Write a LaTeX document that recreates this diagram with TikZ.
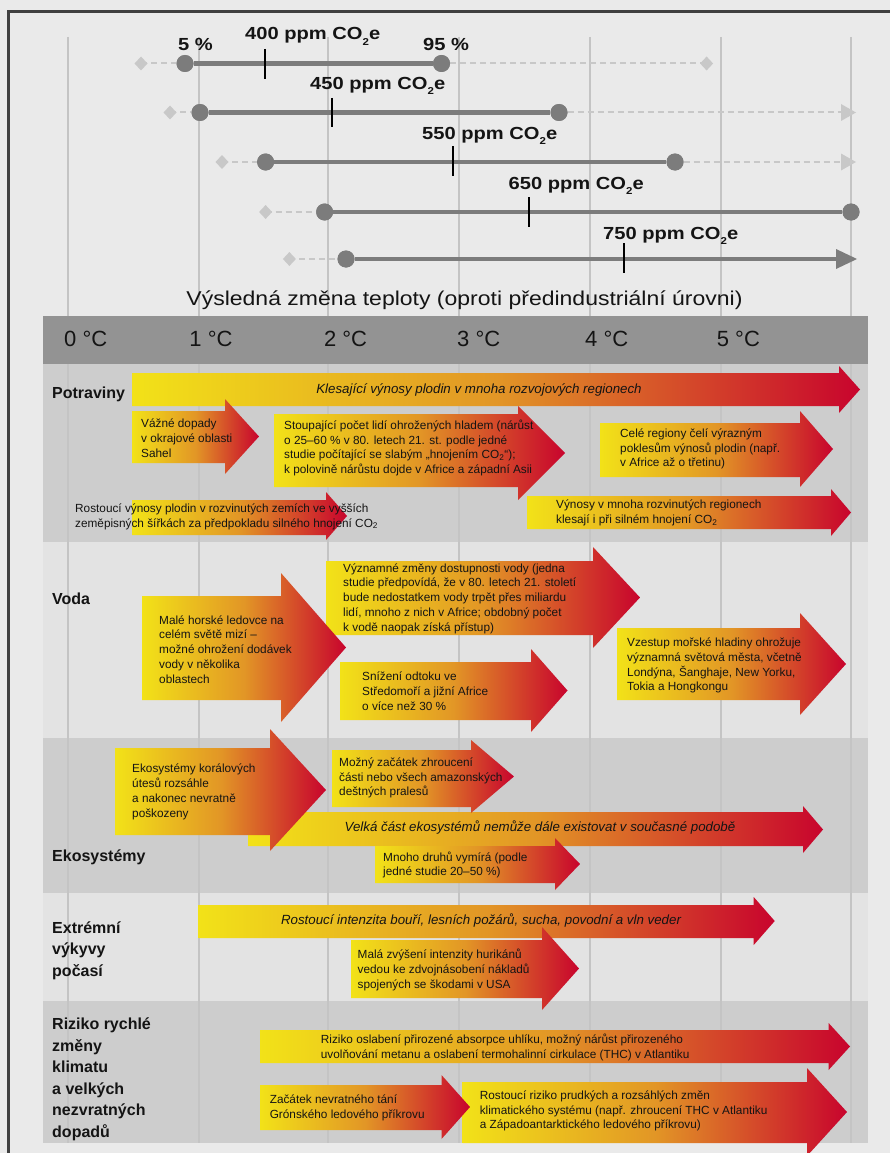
\documentclass[tikz,border=0pt]{standalone}
\usepackage{fontspec}
\usetikzlibrary{calc}
\setmainfont{Liberation Sans}
\newfontfamily\widefont[FakeStretch=1.15]{Liberation Sans}
\definecolor{bgc}{RGB}{234,234,234}
\definecolor{framec}{RGB}{64,64,64}
\definecolor{banddark}{RGB}{205,205,205}
\definecolor{bandlight}{RGB}{227,227,227}
\definecolor{headc}{RGB}{147,147,147}
\definecolor{gridc}{RGB}{196,196,196}
\definecolor{ayel}{RGB}{242,226,24}
\definecolor{aora}{RGB}{226,150,38}
\definecolor{ared}{RGB}{200,4,45}
\definecolor{solidc}{RGB}{124,124,124}
\definecolor{lightc}{RGB}{200,200,200}
\definecolor{txtc}{RGB}{20,20,20}
\newcommand{\grarrow}[7]{%
  \shade[left color=ayel, right color=ared, middle color=aora]
   (#1,#3) -- (#2,#3) -- (#2,#5) -- (#7,{(#5+#6)/2}) -- (#2,#6) -- (#2,#4) -- (#1,#4) -- cycle;}
\newcommand{\diamondat}[1]{\fill[diam] ($(#1)+(-6.5,0)$) -- ++(6.5,-7) -- ++(6.5,7) -- ++(-6.5,7) -- cycle;}
\newcommand{\subtwo}{\raisebox{-0.3em}{\fontsize{10}{10}\selectfont 2}}
\tikzset{
  btxt/.style={anchor=west, inner sep=0pt, align=left, text=txtc, font=\fontsize{11.8}{14.8}\selectfont},
  itxt/.style={anchor=center, inner sep=0pt, text=txtc, font=\fontsize{13.3}{15}\selectfont\itshape},
  cattxt/.style={anchor=west, inner sep=0pt, align=left, text=txtc, font=\fontsize{16}{21.5}\selectfont\bfseries},
  degtxt/.style={anchor=base, inner sep=0pt, text=txtc, font=\fontsize{22}{24}\selectfont},
  scen/.style={anchor=base west, inner sep=0pt, text=txtc, font=\widefont\bfseries\fontsize{17.5}{20}\selectfont},
  gridline/.style={draw=gridc, line width=2pt},
  solidbar/.style={draw=solidc, line width=4.5pt},
  dashbar/.style={draw=lightc, line width=2pt, dash pattern=on 6pt off 4pt},
  dot/.style={circle, fill=solidc, inner sep=0pt, minimum size=17pt},
  diam/.style={fill=lightc},
  tick/.style={draw=black, line width=1.2pt}
}
\begin{document}
\begin{tikzpicture}[x=1pt,y=-1pt]
\useasboundingbox (0,0) rectangle (890,1153);
\fill[bgc] (0,0) rectangle (890,1153);
\draw[framec, line width=3pt] (8.5,1153) -- (8.5,11.5) -- (890,11.5);
% bands
\fill[banddark] (42.6,364) rectangle (868,542);
\fill[bandlight] (42.6,542) rectangle (868,738);
\fill[banddark] (42.6,738) rectangle (868,893);
\fill[bandlight] (42.6,893) rectangle (868,1001);
\fill[banddark] (42.6,1001) rectangle (868,1143);
% grid
\foreach \x in {68,198.5,328,459,590,720.5,851} \draw[gridline] (\x,37) -- (\x,1143);
% header
\fill[headc] (42.6,315.7) rectangle (868,364);
\foreach \t/\x in {0/85.7,1/211,2/345.6,3/478.7,4/606.7,5/738.4}
  \node[degtxt] (deg\t) at (\x,346) {\t\ °C};
\node[anchor=base, inner sep=0pt, text=txtc, font=\widefont\fontsize{20}{22}\selectfont] (title) at (464.5,305) {Výsledná změna teploty (oproti předindustriální úrovni)};
% row 1
\coordinate (r1dl) at (141,63.5); \coordinate (r1dr) at (706.6,63.5);
\node[dot] (r1a) at (185,63.5) {}; \node[dot] (r1b) at (441.5,63.5) {};
\draw[dashbar] (r1dl) -- (r1a); \draw[dashbar] (r1b) -- (r1dr);
\draw[solidbar] (r1a) -- (r1b);
\node[dot] at (r1a) {}; \node[dot] at (r1b) {};
\diamondat{r1dl} \diamondat{r1dr}
\draw[tick] (265,49) -- (265,79);
\node[scen] (l400) at (245,40) {400 ppm CO\subtwo e};
\node[scen] (p5) at (178,50.7) {5 \%};
\node[scen] (p95) at (423,50.7) {95 \%};
% row 2
\coordinate (r2dl) at (170,112.5); \coordinate (r2e) at (841,112.5);
\node[dot] (r2a) at (200,112.5) {}; \node[dot] (r2b) at (559,112.5) {};
\draw[dashbar] (r2dl) -- (r2a); \draw[dashbar] (r2b) -- (r2e);
\fill[lightc] (r2e) ++(0,-8.5) -- ++(15,8.5) -- ++(-15,8.5) -- cycle;
\draw[solidbar] (r2a) -- (r2b);
\node[dot] at (r2a) {}; \node[dot] at (r2b) {};
\diamondat{r2dl}
\draw[tick] (332,98) -- (332,127);
\node[scen] (l450) at (310,89.3) {450 ppm CO\subtwo e};
% row 3
\coordinate (r3dl) at (222,162); \coordinate (r3e) at (841,162);
\node[dot] (r3a) at (265.6,162) {}; \node[dot] (r3b) at (675,162) {};
\draw[dashbar] (r3dl) -- (r3a); \draw[dashbar] (r3b) -- (r3e);
\fill[lightc] (r3e) ++(0,-8.5) -- ++(15,8.5) -- ++(-15,8.5) -- cycle;
\draw[solidbar] (r3a) -- (r3b);
\node[dot] at (r3a) {}; \node[dot] at (r3b) {};
\diamondat{r3dl}
\draw[tick] (453,146) -- (453,176);
\node[scen] (l550) at (422,139.3) {550 ppm CO\subtwo e};
% row 4
\coordinate (r4dl) at (265.6,212);
\node[dot] (r4a) at (324.6,212) {}; \node[dot] (r4b) at (851,212) {};
\draw[dashbar] (r4dl) -- (r4a);
\draw[solidbar] (r4a) -- (r4b);
\node[dot] at (r4a) {}; \node[dot] at (r4b) {};
\diamondat{r4dl}
\draw[tick] (529,197) -- (529,227);
\node[scen] (l650) at (508.5,189.3) {650 ppm CO\subtwo e};
% row 5
\coordinate (r5dl) at (289.4,259); \coordinate (r5e) at (836,259);
\node[dot] (r5a) at (346,259) {};
\draw[dashbar] (r5dl) -- (r5a);
\draw[solidbar] (r5a) -- (r5e);
\fill[solidc] (r5e) ++(0,-10) -- ++(21,10) -- ++(-21,10) -- cycle;
\node[dot] at (r5a) {};
\diamondat{r5dl}
\draw[tick] (624,243) -- (624,273);
\node[scen] (l750) at (603,239.3) {750 ppm CO\subtwo e};
% categories
\node[cattxt, anchor=base west] (cpot) at (52,398.3) {Potraviny};
\node[cattxt, anchor=base west] (cvod) at (52,604.3) {Voda};
\node[cattxt, anchor=base west] (ceko) at (52,861.7) {Ekosystémy};
\node[cattxt] (cext) at (52,950.7) {Extrémní\\výkyvy\\počasí};
\node[cattxt] (criz) at (52,1079.5) {Riziko rychlé\\změny\\klimatu\\a velkých\\nezvratných\\dopadů};
% Potraviny arrows
\grarrow{132}{839}{373}{406}{366}{413}{860}
\grarrow{132}{225}{411}{463}{399}{474}{259}
\grarrow{527}{831}{496}{529}{489}{536}{851}
\grarrow{274}{518}{414}{487}{406}{500}{565}
\grarrow{600}{800}{423}{477}{411}{487}{833}
\grarrow{132}{326}{500}{535}{492}{540}{347}
\node[itxt] (a1) at (479,390) {Klesající výnosy plodin v mnoha rozvojových regionech};
\node[btxt] (a2) at (141,438) {Vážné dopady\\v okrajové oblasti\\Sahel};
\node[btxt] (a3) at (284,448) {Stoupající počet lidí ohrožených hladem (nárůst\\o 25–60 \% v 80. letech 21. st. podle jedné\\studie počítající se slabým „hnojením CO\textsubscript{2}“);\\k polovině nárůstu dojde v Africe a západní Asii};
\node[btxt] (a4) at (620,449) {Celé regiony čelí výrazným\\poklesům výnosů plodin (např.\\v Africe až o třetinu)};
\node[btxt] (a5) at (75,516.5) {Rostoucí výnosy plodin v rozvinutých zemích ve vyšších\\zeměpisných šířkách za předpokladu silného hnojení CO\textsubscript{2}};
\node[btxt] (a6) at (556,513) {Výnosy v mnoha rozvinutých regionech\\klesají i při silném hnojení CO\textsubscript{2}};
% Voda arrows
\grarrow{326}{593}{561}{635}{547}{648}{640}
\grarrow{142}{281}{596}{700}{573}{722}{346}
\grarrow{340}{531}{662}{720}{649}{732}{567.5}
\grarrow{617}{800}{628}{700}{613}{715}{846}
\node[btxt] (b1) at (159,649.5) {Malé horské ledovce na\\celém světě mizí –\\možné ohrožení dodávek\\vody v několika\\oblastech};
\node[btxt] (b2) at (343,598.5) {Významné změny dostupnosti vody (jedna\\studie předpovídá, že v 80. letech 21. století\\bude nedostatkem vody trpět přes miliardu\\lidí, mnoho z nich v Africe; obdobný počet\\k vodě naopak získá přístup)};
\node[btxt] (b3) at (362,691) {Snížení odtoku ve\\Středomoří a jižní Africe\\o více než 30 \%};
\node[btxt] (b4) at (627,665.5) {Vzestup mořské hladiny ohrožuje\\významná světová města, včetně\\Londýna, Šanghaje, New Yorku,\\Tokia a Hongkongu};
% Ekosystemy arrows
\grarrow{248}{803}{812}{846}{806}{853}{823}
\grarrow{115}{270}{748}{835}{729}{851}{326}
\grarrow{332}{471}{750}{807}{740}{813}{514}
\grarrow{375}{555}{846}{883}{838}{890}{580}
\node[itxt] (c3) at (540,828) {Velká část ekosystémů nemůže dále existovat v současné podobě};
\node[btxt] (c1) at (132,792) {Ekosystémy korálových\\útesů rozsáhle\\a nakonec nevratně\\poškozeny};
\node[btxt] (c2) at (339,778) {Možný začátek zhroucení\\části nebo všech amazonských\\deštných pralesů};
\node[btxt] (c4) at (383,865) {Mnoho druhů vymírá (podle\\jedné studie 20–50 \%)};
% Extremni
\grarrow{198.6}{753.7}{905}{938}{897}{945}{774.7}
\grarrow{351}{542}{940}{998}{927}{1010}{579}
\node[itxt] (d1) at (481,921) {Rostoucí intenzita bouří, lesních požárů, sucha, povodní a vln veder};
\node[btxt] (d2) at (357.5,970) {Malá zvýšení intenzity hurikánů\\vedou ke zdvojnásobení nákladů\\spojených se škodami v USA};
% Riziko
\grarrow{260}{828.6}{1030}{1063}{1023}{1070}{850}
\grarrow{462.5}{807}{1082}{1143}{1068}{1156}{847}
\grarrow{260}{441.5}{1085}{1130}{1075}{1139}{470}
\node[btxt] (e1) at (320.7,1047.5) {Riziko oslabení přirozené absorpce uhlíku, možný nárůst přirozeného\\uvolňování metanu a oslabení termohalinní cirkulace (THC) v Atlantiku};
\node[btxt] (e2) at (269.6,1108) {Začátek nevratného tání\\Grónského ledového příkrovu};
\node[btxt] (e3) at (479.6,1111) {Rostoucí riziko prudkých a rozsáhlých změn\\klimatického systému (např. zhroucení THC v Atlantiku\\a Západoantarktického ledového příkrovu)};
\end{tikzpicture}
\end{document}
